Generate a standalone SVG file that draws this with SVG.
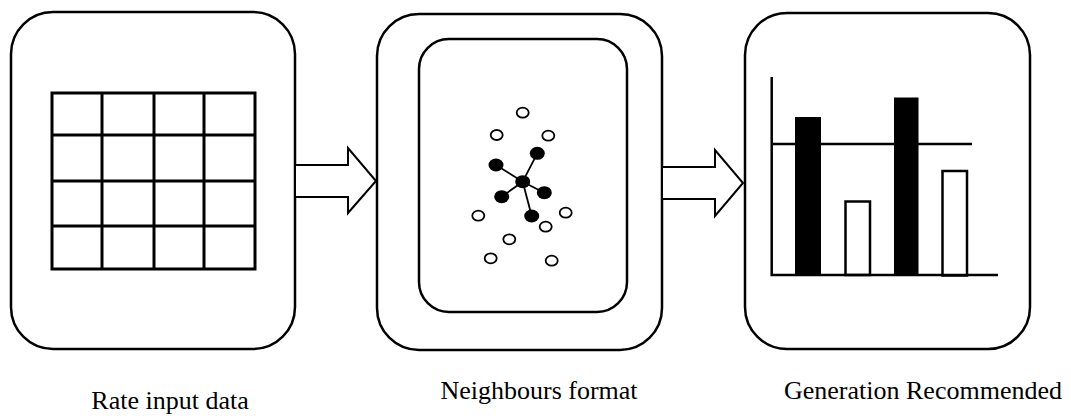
<svg xmlns="http://www.w3.org/2000/svg" width="1071" height="416" viewBox="0 0 1071 416">
<style>
.box{fill:#fff;stroke:#000;stroke-width:2.5}
.grid{fill:none;stroke:#000;stroke-width:3}
.arrow{fill:#fff;stroke:#000;stroke-width:2;stroke-linejoin:miter}
.open{fill:#fff;stroke:#000;stroke-width:1.8}
.fill{fill:#000}
.edge{stroke:#000;stroke-width:1.8}
.ax{stroke:#000;stroke-width:2.5;fill:none}
.bar{fill:#000}
.obar{fill:#fff;stroke:#000;stroke-width:2.5}
.lbl{font-family:"Liberation Serif","Times New Roman",serif;font-size:26px;fill:#000;text-anchor:middle}
</style>
<rect width="1071" height="416" fill="#fff"/>
<g id="node-rate-input">
<rect class="box" x="11" y="12" width="284" height="337" rx="42" ry="42"/>
<rect class="grid" x="52" y="93" width="203" height="176"/>
<path class="grid" d="M102 93V269M154 93V269M204 93V269M52 135H255M52 181H255M52 226H255"/>
<text class="lbl" x="170" y="409">Rate input data</text>
</g>
<g id="node-neighbours">
<rect class="box" x="377" y="14" width="285" height="336" rx="42" ry="42"/>
<rect class="box" x="419" y="39" width="208" height="273" rx="30" ry="30"/>
<g>
<line class="edge" x1="522.7" y1="181.7" x2="537.3" y2="153.3"/>
<line class="edge" x1="522.7" y1="181.7" x2="496" y2="165"/>
<line class="edge" x1="522.7" y1="181.7" x2="501.7" y2="196.7"/>
<line class="edge" x1="522.7" y1="181.7" x2="544.3" y2="192.7"/>
<line class="edge" x1="522.7" y1="181.7" x2="531.7" y2="216"/>
<ellipse class="fill" cx="522.7" cy="181.7" rx="7.5" ry="6.5"/>
<ellipse class="fill" cx="537.3" cy="153.3" rx="7.5" ry="6.5"/>
<ellipse class="fill" cx="496" cy="165" rx="7.5" ry="6.5"/>
<ellipse class="fill" cx="501.7" cy="196.7" rx="7.5" ry="6.5"/>
<ellipse class="fill" cx="544.3" cy="192.7" rx="7.5" ry="6.5"/>
<ellipse class="fill" cx="531.7" cy="216" rx="7.5" ry="6.5"/>
<ellipse class="open" cx="522.7" cy="112.7" rx="6" ry="5"/>
<ellipse class="open" cx="496.7" cy="135" rx="6" ry="5"/>
<ellipse class="open" cx="548.3" cy="135.7" rx="6" ry="5"/>
<ellipse class="open" cx="478.3" cy="215.7" rx="6" ry="5"/>
<ellipse class="open" cx="565.7" cy="212.7" rx="6" ry="5"/>
<ellipse class="open" cx="545.7" cy="226.7" rx="6" ry="5"/>
<ellipse class="open" cx="509.3" cy="239.3" rx="6" ry="5"/>
<ellipse class="open" cx="490.7" cy="258.3" rx="6" ry="5"/>
<ellipse class="open" cx="551.7" cy="260.7" rx="6" ry="5"/>
</g>
<text class="lbl" x="539" y="399">Neighbours format</text>
</g>
<g id="node-generation">
<rect class="box" x="745" y="13" width="285" height="336" rx="42" ry="42"/>
<rect class="bar" x="795" y="117" width="26" height="158"/>
<rect class="bar" x="894" y="97.5" width="24.5" height="178"/>
<rect class="obar" x="845.5" y="201.5" width="24.5" height="73.5"/>
<rect class="obar" x="942.5" y="171" width="24.5" height="104.5"/>
<path class="ax" d="M771.7 77V275H998M771.7 144H972"/>
<text class="lbl" x="923" y="399">Generation Recommended</text>
</g>
<g id="connectors">
<path class="arrow" d="M295 165H348V148L376 181L348 213V197H295Z"/>
<path class="arrow" d="M662 167H715V150L743 183L715 216V199H662Z"/>
</g>
</svg>
